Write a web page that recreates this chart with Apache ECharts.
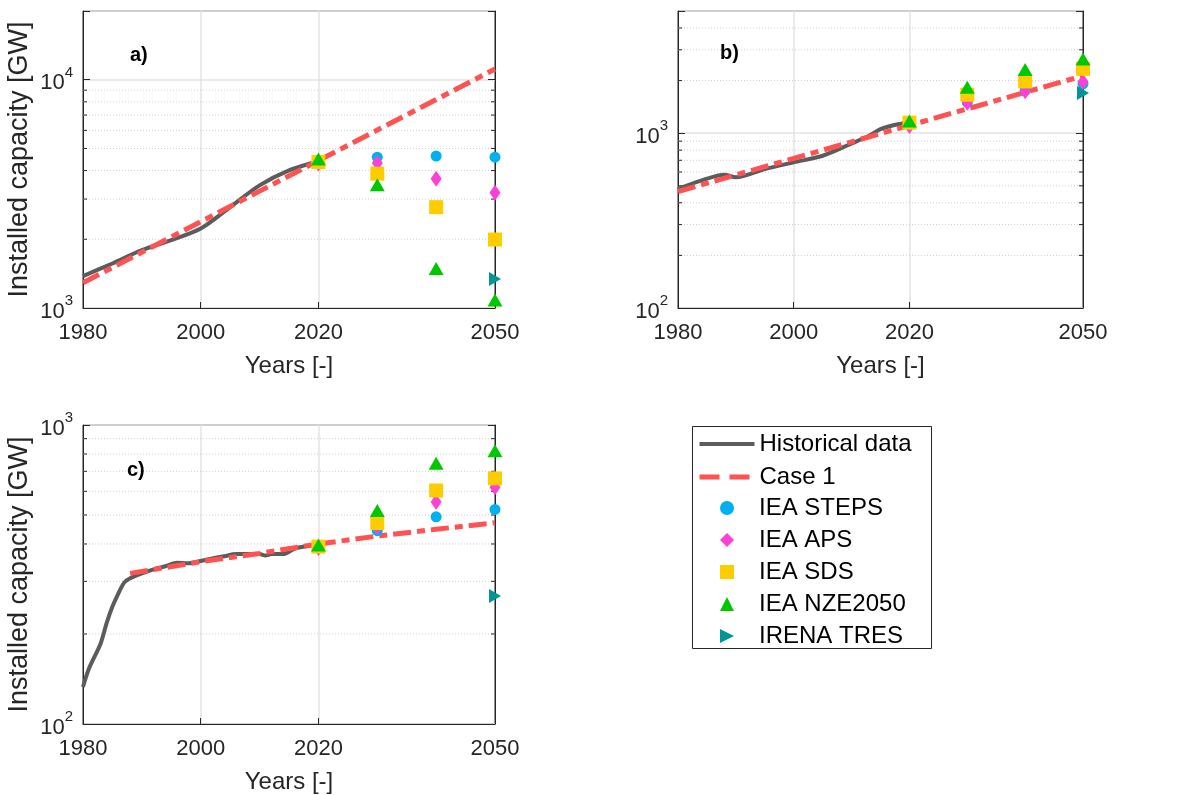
<!DOCTYPE html>
<html>
<head>
<meta charset="utf-8">
<script src="https://cdn.jsdelivr.net/npm/echarts@6/dist/echarts.min.js"></script>
<style>html,body{margin:0;padding:0;background:#fff;}#c{width:1189px;height:795px;}</style>
</head>
<body>
<div id="c"></div>
<script>
// ---- data ----
const xLabelValues = [1980, 2000, 2020, 2050];
const xTickValues = [2000, 2020];
const scenarioYears = [2020, 2030, 2040, 2050];
const ireneYear = [2050];

// Panel a
const histYearsA = [1980, 1985, 1990, 1995, 2000, 2005, 2010, 2015, 2020];
const histA = [1380, 1567, 1791, 1982, 2228, 2766, 3443, 4008, 4396];
const caseYearsA = [1980, 1990, 2000, 2010, 2020, 2030, 2040, 2050];
const caseA = [1290, 1756, 2388, 3250, 4424, 6017, 8185, 11150];
const stepsA = [4400, 4580, 4630, 4580];
const apsA = [4300, 4315, 3680, 3200];
const sdsA = [4360, 3875, 2766, 1995];
const nzeA = [4490, 3470, 1490, 1084];
const irenaA = [1339];
const yMinA = 1000, yMaxA = 20000;
const minorA = [2000, 3000, 4000, 5000, 6000, 7000, 8000, 9000];

// Panel b
const histYearsB = [1980, 1984, 1988, 1990, 1995, 2000, 2005, 2010, 2013, 2015, 2018, 2020];
const histB = [480, 535, 579, 559, 623, 681, 743, 873, 966, 1055, 1125, 1149];
const caseYearsB = [1980, 1990, 2000, 2010, 2020, 2030, 2040, 2050];
const caseB = [464, 577, 717, 892, 1109, 1378, 1713, 2130];
const stepsB = [1120, 1500, 1750, 1915];
const apsB = [1100, 1493, 1738, 1967];
const sdsB = [1149, 1660, 1977, 2333];
const nzeB = [1175, 1834, 2312, 2656];
const irenaB = [1700];
const yMinB = 100, yMaxB = 5000;
const minorB = [200, 300, 400, 500, 600, 700, 800, 900, 2000, 3000, 4000];

// Panel c
const histYearsC = [1980, 1981, 1983, 1984, 1985, 1986, 1987, 1988, 1990, 1992, 1994, 1996, 1998, 2000, 2002, 2004, 2006, 2008, 2010, 2011, 2012, 2014, 2016, 2018, 2019, 2020];
const histC = [133, 153, 186, 217, 247, 273, 297, 307, 319, 329, 337, 346, 345, 351, 358, 364, 370, 370, 370, 366, 370, 370, 386, 394, 396, 393];
const caseYearsC = [1988, 2000, 2010, 2020, 2030, 2040, 2050];
const caseC = [319, 349, 372, 400, 425, 448, 471];
const stepsC = [390, 443, 493, 522];
const apsC = [388, 457, 553, 619];
const sdsC = [392, 470, 604, 663];
const nzeC = [397, 518, 745, 820];
const irenaC = [268];
const yMinC = 100, yMaxC = 1000;
const minorC = [200, 300, 400, 500, 600, 700, 800, 900];

const lineLegendNames = ['Historical data', 'Case 1'];
const markerLegendNames = ['IEA STEPS', 'IEA APS', 'IEA SDS', 'IEA NZE2050', 'IRENA TRES'];

// ---- style ----
const FONT = 'Liberation Sans, Arial, sans-serif';
const TXT = '#262626';
const COL = {
  hist: '#5c5c5c', case1: '#ff5252', steps: '#00b0f0', aps: '#ff40d6',
  sds: '#ffcc00', nze: '#00c800', irena: '#009696'
};
const RIGHT_TRI = 'path://M0,0L1,0.5L0,1Z';

const grids = [
  {left: 83, top: 11, width: 412, height: 297},
  {left: 678, top: 11, width: 405, height: 297},
  {left: 83, top: 425, width: 412, height: 299}
];

function pairs(xs, ys) { return xs.map((x, i) => [x, ys[i]]); }

function yLabelFmt(v) {
  const l = Math.log10(v), e = Math.round(l);
  if (Math.abs(l - e) > 1e-6) return '';
  return '{b|10}{s|' + e + '}';
}

const xAxes = [], yAxes = [], series = [];
const panels = [
  {hy: histYearsA, h: histA, cy: caseYearsA, c: caseA, s: [stepsA, apsA, sdsA, nzeA], ir: irenaA, min: yMinA, max: yMaxA, minor: minorA, yname: true},
  {hy: histYearsB, h: histB, cy: caseYearsB, c: caseB, s: [stepsB, apsB, sdsB, nzeB], ir: irenaB, min: yMinB, max: yMaxB, minor: minorB, yname: false},
  {hy: histYearsC, h: histC, cy: caseYearsC, c: caseC, s: [stepsC, apsC, sdsC, nzeC], ir: irenaC, min: yMinC, max: yMaxC, minor: minorC, yname: true}
];

panels.forEach((p, i) => {
  xAxes.push({
    type: 'value', gridIndex: i, min: 1980, max: 2050,
    name: 'Years [-]', nameLocation: 'middle', nameGap: 46,
    nameTextStyle: {fontFamily: FONT, fontSize: 24, color: TXT},
    axisLine: {show: true, lineStyle: {color: TXT, width: 1}},
    axisTick: {show: true, inside: true, length: 6, customValues: xTickValues, lineStyle: {color: TXT}},
    axisLabel: {customValues: xLabelValues, formatter: v => String(v), fontFamily: FONT, fontSize: 22, color: TXT, margin: 14},
    splitLine: {show: true, lineStyle: {color: '#e3e3e3', width: 1.5}}
  });
  yAxes.push({
    type: 'log', logBase: 10, gridIndex: i, min: p.min, max: p.max,
    axisLine: {show: true, lineStyle: {color: TXT, width: 1}},
    axisTick: {show: true, inside: true, length: 7, lineStyle: {color: TXT}},
    position: 'left',
    name: p.yname ? 'Installed capacity [GW]' : '', nameLocation: 'middle', nameGap: 50,
    nameTextStyle: {fontFamily: FONT, fontSize: 27, color: TXT},
    axisLabel: {
      formatter: yLabelFmt, margin: 10, color: TXT,
      rich: {
        b: {fontFamily: FONT, fontSize: 22, color: TXT, verticalAlign: 'bottom'},
        s: {fontFamily: FONT, fontSize: 15, color: TXT, verticalAlign: 'bottom', padding: [0, 0, 14, 0]}
      }
    },
    splitLine: {show: true, lineStyle: {color: '#e3e3e3', width: 1.5}}
  });
});
panels.forEach((p, i) => {
  yAxes.push({
    type: 'log', logBase: 10, gridIndex: i, min: p.min, max: p.max, position: 'right',
    axisLine: {show: true, lineStyle: {color: TXT, width: 1}},
    axisTick: {show: true, inside: true, length: 7, lineStyle: {color: TXT}},
    axisLabel: {show: false}, splitLine: {show: false}
  });
});

panels.forEach((p, i) => {
  // minor grid + minor ticks
  series.push({
    type: 'custom', xAxisIndex: i, yAxisIndex: i, silent: true, z: 1,
    data: p.minor.map(v => [1980, v]),
    renderItem: function (params, api) {
      const cs = params.coordSys;
      const y = api.coord([api.value(0), api.value(1)])[1];
      return {type: 'group', children: [
        {type: 'line', shape: {x1: cs.x, y1: y, x2: cs.x + cs.width, y2: y}, style: {stroke: '#cfcfcf', lineWidth: 1, lineDash: [1, 2]}},
        {type: 'line', shape: {x1: cs.x, y1: y, x2: cs.x + 4, y2: y}, style: {stroke: TXT, lineWidth: 1}},
        {type: 'line', shape: {x1: cs.x + cs.width - 4, y1: y, x2: cs.x + cs.width, y2: y}, style: {stroke: TXT, lineWidth: 1}}
      ]};
    }
  });
  series.push({
    name: 'Historical data', type: 'line', xAxisIndex: i, yAxisIndex: i, z: 3,
    data: pairs(p.hy, p.h), showSymbol: false, symbol: 'none', smooth: 0.3,
    lineStyle: {color: COL.hist, width: 4}, itemStyle: {color: COL.hist}
  });
  series.push({
    name: 'Case 1', type: 'line', xAxisIndex: i, yAxisIndex: i, z: 4,
    data: pairs(p.cy, p.c), showSymbol: false, symbol: 'none',
    lineStyle: {color: COL.case1, width: 5, type: [18, 6, 8, 6]}, itemStyle: {color: COL.case1}
  });
  const sc = [
    ['IEA STEPS', 'circle', 11, COL.steps],
    ['IEA APS', 'diamond', [11, 16], COL.aps],
    ['IEA SDS', 'rect', 14, COL.sds],
    ['IEA NZE2050', 'triangle', [15, 13], COL.nze]
  ];
  sc.forEach((d, k) => {
    series.push({
      name: d[0], type: 'scatter', xAxisIndex: i, yAxisIndex: i, z: 5 + k,
      data: pairs(scenarioYears, p.s[k]), symbol: d[1], symbolSize: d[2],
      itemStyle: {color: d[3], opacity: 1}
    });
  });
  series.push({
    name: 'IRENA TRES', type: 'scatter', xAxisIndex: i, yAxisIndex: i, z: 10,
    data: pairs(ireneYear, p.ir), symbol: RIGHT_TRI, symbolSize: [12, 14],
    itemStyle: {color: COL.irena, opacity: 1}
  });
});

const legendText = {fontFamily: FONT, fontSize: 24, color: '#000'};

const option = {
  animation: false,
  backgroundColor: '#ffffff',
  textStyle: {fontFamily: FONT},
  grid: grids.map(g => Object.assign({show: true, borderColor: TXT, borderWidth: 1, backgroundColor: 'transparent'}, g)),
  title: [
    {text: 'a)', left: 125, top: 40},
    {text: 'b)', left: 715, top: 38},
    {text: 'c)', left: 122, top: 455}
  ].map(t => Object.assign(t, {textStyle: {fontFamily: FONT, fontSize: 20, fontWeight: 'bold', color: '#000'}})),
  graphic: [{
    type: 'rect', left: 692, top: 426, z: 0, silent: true,
    shape: {width: 239, height: 222},
    style: {fill: '#fff', stroke: TXT, lineWidth: 1}
  }],
  legend: [
    {
      data: [
        {name: lineLegendNames[0], itemStyle: {opacity: 0}, lineStyle: {width: 4, color: COL.hist}},
        {name: lineLegendNames[1], itemStyle: {opacity: 0}, lineStyle: {width: 5, color: COL.case1, type: 'dashed'}}
      ],
      orient: 'vertical', left: 697, top: 432, padding: 0,
      itemWidth: 55, itemHeight: 14, itemGap: 9,
      textStyle: legendText, selectedMode: false
    },
    {
      data: markerLegendNames.map(n => n === 'IRENA TRES' ? {name: n, icon: RIGHT_TRI} : {name: n}),
      orient: 'vertical', left: 720, top: 496, padding: 0,
      itemWidth: 14, itemHeight: 14, itemGap: 8,
      textStyle: Object.assign({padding: [0, 0, 0, 20]}, legendText), selectedMode: false
    }
  ],
  xAxis: xAxes,
  yAxis: yAxes,
  series: series
};
const chart = echarts.init(document.getElementById('c'), null, {renderer: 'canvas'});
chart.setOption(option);
</script>
</body>
</html>
